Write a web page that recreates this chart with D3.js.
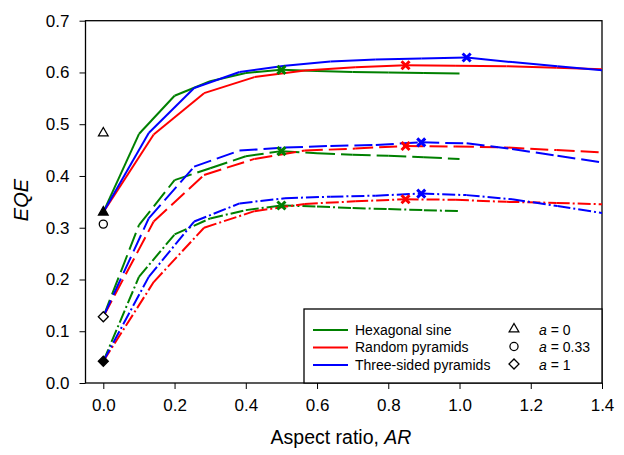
<!DOCTYPE html>
<html>
<head>
<meta charset="utf-8">
<script src="https://cdn.jsdelivr.net/npm/d3@7"></script>
<style>
  body { margin: 0; background: #fff; }
  text { font-family: "Liberation Sans", Arial, sans-serif; }
</style>
</head>
<body>
<svg id="chart" width="624" height="455"></svg>
<script>
// Aspect ratios sampled for each texture
const arHex  = [0, 0.1, 0.2, 0.3, 0.4, 0.5, 0.6, 0.7, 0.8, 0.9, 1.0];
const arRand = [0, 0.1414, 0.2828, 0.4243, 0.5657, 0.7071, 0.8485, 0.9899, 1.1314, 1.2728, 1.4142];
const arTri  = [0, 0.1275, 0.255, 0.3825, 0.51, 0.6375, 0.765, 0.8925, 1.02, 1.1475, 1.275, 1.4025];

// EQE, absorption a = 0 (solid)
const hexA0  = [0.33, 0.481, 0.555, 0.583, 0.599, 0.605, 0.603, 0.601, 0.600, 0.599, 0.598];
const randA0 = [0.33, 0.480, 0.560, 0.591, 0.604, 0.610, 0.614, 0.613, 0.612, 0.609, 0.606];
const triA0  = [0.33, 0.483, 0.570, 0.601, 0.613, 0.621, 0.625, 0.627, 0.629, 0.620, 0.612, 0.604];

// EQE, a = 0.33 (dashed)
const hexA33  = [0.128, 0.305, 0.392, 0.415, 0.438, 0.448, 0.444, 0.441, 0.439, 0.436, 0.433];
const randA33 = [0.128, 0.312, 0.402, 0.433, 0.449, 0.453, 0.458, 0.457, 0.455, 0.450, 0.445];
const triA33  = [0.128, 0.318, 0.418, 0.449, 0.455, 0.458, 0.460, 0.465, 0.463, 0.452, 0.439, 0.426];

// EQE, a = 1 (dash-dot)
const hexA1  = [0.042, 0.205, 0.287, 0.318, 0.334, 0.343, 0.341, 0.338, 0.336, 0.334, 0.332];
const randA1 = [0.042, 0.195, 0.300, 0.332, 0.346, 0.351, 0.355, 0.354, 0.350, 0.348, 0.345];
const triA1  = [0.042, 0.205, 0.312, 0.347, 0.357, 0.360, 0.362, 0.366, 0.363, 0.355, 0.342, 0.328];

// Flat-surface reference values at AR = 0
const flatPoints = [
  { value: 0.483, shape: "triangle", filled: false },
  { value: 0.330, shape: "triangle", filled: true },
  { value: 0.307, shape: "circle",   filled: false },
  { value: 0.128, shape: "diamond",  filled: false },
  { value: 0.042, shape: "diamond",  filled: true }
];

const xTicks = [0.0, 0.2, 0.4, 0.6, 0.8, 1.0, 1.2, 1.4];
const yTicks = [0.0, 0.1, 0.2, 0.3, 0.4, 0.5, 0.6, 0.7];

const textureNames = ["Hexagonal sine", "Random pyramids", "Three-sided pyramids"];
const textureColors = ["#008000", "#ff0000", "#0000ff"];
const absorptionLabels = ["0", "0.33", "1"];
const absorptionShapes = ["triangle", "circle", "diamond"];
const dashStyles = [null, "18,6", "13,3,2,3"];

const series = [
  { ar: arHex,  eqe: hexA0,   tex: 0, abs: 0 },
  { ar: arRand, eqe: randA0,  tex: 1, abs: 0 },
  { ar: arTri,  eqe: triA0,   tex: 2, abs: 0 },
  { ar: arHex,  eqe: hexA33,  tex: 0, abs: 1 },
  { ar: arRand, eqe: randA33, tex: 1, abs: 1 },
  { ar: arTri,  eqe: triA33,  tex: 2, abs: 1 },
  { ar: arHex,  eqe: hexA1,   tex: 0, abs: 2 },
  { ar: arRand, eqe: randA1,  tex: 1, abs: 2 },
  { ar: arTri,  eqe: triA1,   tex: 2, abs: 2 }
];

const svg = d3.select("#chart");
const plotLeft = 85.5, plotRight = 602, plotTop = 20.7, plotBottom = 383;

const x = d3.scaleLinear().domain([-0.05, 1.4]).range([plotLeft, plotRight]);
const y = d3.scaleLinear().domain([0, 0.7]).range([plotBottom, plotTop]);

svg.append("defs").append("clipPath").attr("id", "plotArea")
  .append("rect").attr("x", plotLeft).attr("y", plotTop)
  .attr("width", plotRight - plotLeft).attr("height", plotBottom - plotTop);

// Axes
const xAxis = svg.append("g").attr("transform", `translate(0,${plotBottom})`)
  .call(d3.axisBottom(x).tickValues(xTicks).tickFormat(d3.format(".1f"))
    .tickSize(6).tickSizeOuter(0).tickPadding(10));
const yAxis = svg.append("g").attr("transform", `translate(${plotLeft},0)`)
  .call(d3.axisLeft(y).tickValues(yTicks).tickFormat(d3.format(".1f"))
    .tickSize(6).tickSizeOuter(0).tickPadding(10));
[xAxis, yAxis].forEach(g => {
  g.selectAll("text").style("font-size", "17px").attr("fill", "#000");
  g.selectAll("line").attr("stroke", "#000").attr("stroke-width", 1);
  g.select(".domain").remove();
});

// Frame
svg.append("rect").attr("x", plotLeft).attr("y", plotTop)
  .attr("width", plotRight - plotLeft).attr("height", plotBottom - plotTop)
  .attr("fill", "none").attr("stroke", "#000").attr("stroke-width", 1.3);

// Curves: each segment is its own path so the dash pattern restarts at every sample
const line = d3.line().x(d => x(d[0])).y(d => y(d[1]));
const plot = svg.append("g").attr("clip-path", "url(#plotArea)");

series.forEach(s => {
  const pts = s.ar.map((a, i) => [a, s.eqe[i]]);
  const segs = d3.pairs(pts);
  plot.append("g").selectAll("path").data(segs).join("path")
    .attr("d", line)
    .attr("fill", "none")
    .attr("stroke", textureColors[s.tex])
    .attr("stroke-width", 2)
    .attr("stroke-linecap", "butt")
    .attr("stroke-dasharray", dashStyles[s.abs]);
});

// Optimum (maximum EQE) of every curve
const cross = "M-4,-4L4,4M-4,4L4,-4";
series.forEach(s => {
  const i = d3.maxIndex(s.eqe);
  plot.append("path").attr("d", cross)
    .attr("transform", `translate(${x(s.ar[i])},${y(s.eqe[i])})`)
    .attr("fill", "none").attr("stroke", textureColors[s.tex])
    .attr("stroke-width", 3);
});

// Marker shapes
function markerPath(shape) {
  if (shape === "triangle") return d3.symbol(d3.symbolTriangle, 40)();
  if (shape === "circle") return d3.symbol(d3.symbolCircle, 52)();
  return d3.symbol(d3.symbolSquare, 50)();
}
function drawMarker(g, shape, cx, cy, filled) {
  g.append("path").attr("d", markerPath(shape))
    .attr("transform", `translate(${cx},${cy})` + (shape === "diamond" ? " rotate(45)" : ""))
    .attr("fill", filled ? "#000" : "#fff")
    .attr("stroke", "#000").attr("stroke-width", 1.3);
}
flatPoints.forEach(p => drawMarker(svg, p.shape, x(0), y(p.value), p.filled));

// Axis titles
svg.append("text").attr("x", 341).attr("y", 444)
  .attr("text-anchor", "middle").style("font-size", "19.5px")
  .text("Aspect ratio, ")
  .append("tspan").style("font-style", "italic").text("AR");

svg.append("text").attr("transform", "translate(28,200) rotate(-90)")
  .attr("text-anchor", "middle").style("font-size", "20px")
  .style("font-style", "italic").text("EQE");

// Legend
const lg = svg.append("g");
lg.append("rect").attr("x", 304).attr("y", 309)
  .attr("width", plotRight - 304).attr("height", plotBottom - 309)
  .attr("fill", "#fff").attr("stroke", "#000").attr("stroke-width", 1.3);

const rowY = [330, 347.5, 365];
textureNames.forEach((name, i) => {
  lg.append("line").attr("x1", 313).attr("x2", 348)
    .attr("y1", rowY[i]).attr("y2", rowY[i])
    .attr("stroke", textureColors[i]).attr("stroke-width", 2);
  lg.append("text").attr("x", 355).attr("y", rowY[i])
    .attr("dy", "0.35em").style("font-size", "14px").text(name);
});
absorptionLabels.forEach((lab, i) => {
  drawMarker(lg, absorptionShapes[i], 514, rowY[i] - 1, false);
  const t = lg.append("text").attr("x", 539).attr("y", rowY[i])
    .attr("dy", "0.35em").style("font-size", "14px");
  t.append("tspan").style("font-style", "italic").text("a");
  t.append("tspan").text(" = " + lab);
});
</script>
</body>
</html>
